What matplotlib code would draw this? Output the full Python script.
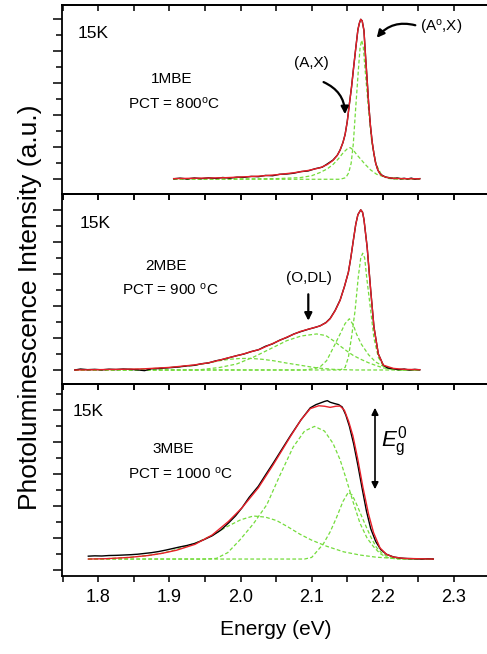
import matplotlib
matplotlib.use("Agg")
import matplotlib.pyplot as plt
from matplotlib.patches import FancyArrowPatch
from matplotlib.ticker import MultipleLocator, FormatStrFormatter, NullFormatter

plt.rcParams["font.family"] = ["Liberation Sans", "DejaVu Sans"]
plt.rcParams["mathtext.fontset"] = "custom"
plt.rcParams["mathtext.rm"] = "Liberation Sans"
plt.rcParams["mathtext.it"] = "Liberation Sans:italic"

# ---------------- data ----------------
# Panel 1 : 1MBE, PCT = 800 C
p1_fit_e = [1.906, 1.93, 1.96, 1.98, 2.00, 2.027, 2.05, 2.074, 2.095, 2.112, 2.122,
            2.130, 2.136, 2.140, 2.144, 2.147, 2.150, 2.153, 2.156, 2.159, 2.162,
            2.165, 2.167, 2.169, 2.171, 2.1735, 2.176, 2.178, 2.180, 2.1825, 2.185,
            2.1875, 2.190, 2.193, 2.196, 2.200, 2.206, 2.215, 2.225, 2.24, 2.252]
p1_fit = [0.004, 0.006, 0.008, 0.010, 0.014, 0.020, 0.028, 0.040, 0.055, 0.072, 0.092,
          0.118, 0.150, 0.183, 0.23, 0.28, 0.36, 0.47, 0.575, 0.70, 0.82,
          0.935, 0.975, 1.0, 0.99, 0.93, 0.75, 0.62, 0.48, 0.34, 0.235,
          0.16, 0.10, 0.058, 0.035, 0.02, 0.011, 0.006, 0.004, 0.003, 0.003]
p1_data_e = [1.906, 1.915, 1.925, 1.935, 1.945, 1.955, 1.965, 1.975, 1.985, 1.995,
             2.005, 2.015, 2.025, 2.035, 2.045, 2.055, 2.065, 2.075, 2.085, 2.095,
             2.105, 2.115, 2.122, 2.130, 2.136, 2.140, 2.144, 2.147, 2.150, 2.153,
             2.156, 2.159, 2.162, 2.165, 2.167, 2.169, 2.171, 2.1735, 2.176, 2.178,
             2.180, 2.1825, 2.185, 2.1875, 2.190, 2.193, 2.196, 2.200, 2.205, 2.210,
             2.215, 2.220, 2.225, 2.230, 2.235, 2.240, 2.245, 2.252]
p1_data = [0.003, 0.007, 0.002, 0.008, 0.004, 0.009, 0.005, 0.011, 0.007, 0.013,
           0.012, 0.018, 0.016, 0.024, 0.022, 0.031, 0.033, 0.038, 0.048, 0.052,
           0.066, 0.076, 0.096, 0.120, 0.150, 0.183, 0.23, 0.28, 0.36, 0.47,
           0.575, 0.70, 0.82, 0.935, 0.975, 1.0, 0.99, 0.93, 0.75, 0.62,
           0.48, 0.34, 0.235, 0.16, 0.10, 0.058, 0.035, 0.022, 0.012, 0.009,
           0.004, 0.008, 0.003, 0.006, 0.002, 0.007, 0.001, 0.004]
p1_a0x_e = [1.906, 2.14, 2.148, 2.152, 2.1555, 2.1585, 2.1618, 2.1656, 2.168, 2.1703,
            2.1725, 2.175, 2.1797, 2.1843, 2.1904, 2.1984, 2.206, 2.22, 2.252]
p1_a0x = [0.0, 0.0, 0.01, 0.04, 0.10, 0.22, 0.44, 0.68, 0.82, 0.869,
          0.83, 0.69, 0.45, 0.24, 0.095, 0.025, 0.006, 0.0, 0.0]
p1_ax_e = [1.906, 2.05, 2.0835, 2.10, 2.1117, 2.122, 2.1304, 2.138, 2.1445, 2.150,
           2.1539, 2.158, 2.163, 2.169, 2.175, 2.183, 2.1914, 2.20, 2.21, 2.23, 2.252]
p1_ax = [0.0, 0.004, 0.01, 0.022, 0.042, 0.065, 0.094, 0.13, 0.167, 0.19,
         0.198, 0.185, 0.156, 0.125, 0.094, 0.058, 0.031, 0.018, 0.01, 0.004, 0.002]

# Panel 2 : 2MBE, PCT = 900 C
p2_fit_e = [1.767, 1.80, 1.83, 1.863, 1.90, 1.934, 1.955, 1.971, 1.98, 2.00, 2.018,
            2.027, 2.045, 2.065, 2.0836, 2.098, 2.1117, 2.12, 2.126, 2.133, 2.140,
            2.146, 2.1516, 2.155, 2.1586, 2.162, 2.165, 2.169, 2.1715, 2.1735,
            2.178, 2.183, 2.1876, 2.1937, 2.2007, 2.2147, 2.23, 2.252]
p2_fit = [0.0, 0.002, 0.004, 0.007, 0.016, 0.031, 0.045, 0.062, 0.073, 0.095, 0.118,
          0.129, 0.165, 0.205, 0.24, 0.258, 0.275, 0.295, 0.32, 0.37, 0.435,
          0.52, 0.61, 0.70, 0.81, 0.91, 0.97, 1.0, 0.985, 0.94,
          0.767, 0.496, 0.267, 0.10, 0.03, 0.01, 0.004, 0.002]
p2_data_e = [1.767, 1.775, 1.785, 1.795, 1.805, 1.815, 1.825, 1.835, 1.845, 1.855,
             1.865, 1.875, 1.885, 1.895, 1.905, 1.915, 1.925, 1.935, 1.945, 1.955,
             1.965, 1.975, 1.985, 1.995, 2.005, 2.015, 2.025, 2.035, 2.045, 2.055,
             2.065, 2.075, 2.085, 2.095, 2.105, 2.112, 2.12, 2.126, 2.133, 2.140,
             2.146, 2.1516, 2.155, 2.1586, 2.162, 2.165, 2.169, 2.1715, 2.1735,
             2.178, 2.183, 2.1876, 2.1937, 2.2007, 2.207, 2.215, 2.222, 2.23, 2.237,
             2.245, 2.252]
p2_data = [0.0, 0.006, 0.002, 0.004, 0.001, 0.005, 0.003, 0.006, 0.004, 0.001,
           -0.004, 0.008, 0.009, 0.013, 0.016, 0.02, 0.026, 0.029, 0.039, 0.044,
           0.057, 0.066, 0.078, 0.09, 0.10, 0.115, 0.126, 0.148, 0.163, 0.186,
           0.203, 0.225, 0.24, 0.254, 0.266, 0.276, 0.296, 0.322, 0.372, 0.437,
           0.52, 0.61, 0.70, 0.81, 0.91, 0.97, 1.0, 0.985, 0.94,
           0.767, 0.496, 0.267, 0.10, 0.03, 0.012, 0.008, 0.002, 0.006, 0.0,
           0.004, 0.001]
p2_low_e = [1.767, 1.83, 1.86, 1.90, 1.934, 1.955, 1.971, 1.985, 2.00, 2.015, 2.03,
            2.046, 2.065, 2.0836, 2.10, 2.112, 2.13, 2.16, 2.252]
p2_low = [0.0, 0.002, 0.005, 0.014, 0.028, 0.045, 0.058, 0.067, 0.072, 0.072, 0.067,
          0.058, 0.043, 0.03, 0.018, 0.011, 0.004, 0.0, 0.0]
p2_odl_e = [1.767, 1.94, 1.971, 1.9946, 2.018, 2.0414, 2.065, 2.085, 2.107, 2.12,
            2.1305, 2.14, 2.149, 2.158, 2.168, 2.18, 2.191, 2.20, 2.21, 2.23, 2.252]
p2_odl = [0.0, 0.0, 0.016, 0.0375, 0.08, 0.131, 0.183, 0.212, 0.225, 0.215,
          0.183, 0.15, 0.12, 0.092, 0.069, 0.045, 0.027, 0.014, 0.006, 0.0, 0.0]
p2_ax_e = [1.767, 2.09, 2.105, 2.112, 2.121, 2.1305, 2.140, 2.147, 2.153, 2.1586,
           2.163, 2.17, 2.18, 2.19, 2.20, 2.21, 2.225, 2.252]
p2_ax = [0.0, 0.0, 0.01, 0.02, 0.058, 0.14, 0.225, 0.29, 0.32, 0.28,
         0.225, 0.16, 0.095, 0.05, 0.025, 0.01, 0.0, 0.0]
p2_a0x_e = [1.767, 2.14, 2.147, 2.1516, 2.156, 2.161, 2.1655, 2.169, 2.1717, 2.1745,
            2.1773, 2.183, 2.1875, 2.1937, 2.2007, 2.21, 2.22, 2.252]
p2_a0x = [0.0, 0.0, 0.016, 0.079, 0.204, 0.37, 0.58, 0.70, 0.729, 0.70,
          0.58, 0.37, 0.2, 0.079, 0.027, 0.008, 0.0, 0.0]

# Panel 3 : 3MBE, PCT = 1000 C
p3_fit_e = [1.786, 1.81, 1.843, 1.87, 1.89, 1.91, 1.936, 1.96, 1.983, 2.002, 2.025,
            2.046, 2.07, 2.085, 2.098, 2.11, 2.118, 2.126, 2.134, 2.14, 2.146,
            2.152, 2.158, 2.165, 2.172, 2.18, 2.187, 2.196, 2.205, 2.215, 2.23,
            2.25, 2.271]
p3_fit = [0.0, 0.002, 0.01, 0.022, 0.036, 0.055, 0.092, 0.15, 0.235, 0.32, 0.445,
          0.59, 0.765, 0.87, 0.94, 0.958, 0.955, 0.948, 0.955, 0.956, 0.93,
          0.86, 0.77, 0.62, 0.45, 0.28, 0.165, 0.07, 0.03, 0.012, 0.004,
          0.002, 0.0]
p3_data_e = [1.786, 1.795, 1.805, 1.815, 1.825, 1.835, 1.845, 1.855, 1.865, 1.875,
             1.885, 1.895, 1.905, 1.915, 1.925, 1.936, 1.948, 1.96, 1.972, 1.983,
             1.993, 2.002, 2.012, 2.025, 2.035, 2.046, 2.058, 2.07, 2.085, 2.098,
             2.106, 2.112, 2.118, 2.122, 2.126, 2.132, 2.138, 2.143, 2.148, 2.153,
             2.159, 2.165, 2.171, 2.177, 2.183, 2.19, 2.197, 2.205, 2.215, 2.225,
             2.235, 2.245, 2.255, 2.263, 2.271]
p3_data = [0.018, 0.020, 0.019, 0.022, 0.023, 0.025, 0.027, 0.030, 0.035, 0.040,
           0.047, 0.056, 0.066, 0.076, 0.085, 0.098, 0.12, 0.145, 0.18, 0.225,
           0.27, 0.32, 0.385, 0.455, 0.525, 0.60, 0.685, 0.77, 0.87, 0.945,
           0.965, 0.975, 0.985, 0.99, 0.98, 0.972, 0.965, 0.95, 0.90, 0.83,
           0.72, 0.585, 0.44, 0.30, 0.19, 0.11, 0.06, 0.03, 0.013, 0.006,
           0.003, 0.002, 0.0, 0.002, 0.0]
p3_main_e = [1.786, 1.95, 1.966, 1.982, 1.999, 2.018, 2.037, 2.055, 2.074, 2.09,
             2.104, 2.118, 2.130, 2.14, 2.149, 2.158, 2.168, 2.178, 2.187, 2.196,
             2.2055, 2.22, 2.271]
p3_main = [0.0, 0.0, 0.004, 0.04, 0.119, 0.22, 0.34, 0.52, 0.70, 0.80,
           0.829, 0.80, 0.723, 0.62, 0.494, 0.36, 0.223, 0.13, 0.077, 0.035,
           0.01, 0.0, 0.0]
p3_low_e = [1.786, 1.81, 1.843, 1.87, 1.89, 1.91, 1.936, 1.96, 1.98, 2.0, 2.018,
            2.035, 2.051, 2.067, 2.0836, 2.10, 2.121, 2.145, 2.168, 2.19, 2.215,
            2.24, 2.271]
p3_low = [0.0, 0.002, 0.01, 0.022, 0.036, 0.06, 0.098, 0.148, 0.2, 0.245, 0.269,
          0.262, 0.24, 0.2, 0.155, 0.118, 0.08, 0.045, 0.025, 0.012, 0.004,
          0.0, 0.0]
p3_high_e = [1.786, 2.09, 2.10, 2.1163, 2.126, 2.135, 2.144, 2.1515, 2.157, 2.163,
             2.17, 2.177, 2.184, 2.191, 2.198, 2.205, 2.215, 2.23, 2.271]
p3_high = [0.0, 0.0, 0.01, 0.094, 0.17, 0.26, 0.36, 0.417, 0.40, 0.344,
           0.27, 0.198, 0.13, 0.073, 0.04, 0.02, 0.008, 0.0, 0.0]

panels = [
    dict(data=(p1_data_e, p1_data), fit=(p1_fit_e, p1_fit),
         comps=[(p1_ax_e, p1_ax), (p1_a0x_e, p1_a0x)], ylim=(-0.094, 1.0875)),
    dict(data=(p2_data_e, p2_data), fit=(p2_fit_e, p2_fit),
         comps=[(p2_low_e, p2_low), (p2_odl_e, p2_odl), (p2_ax_e, p2_ax),
                (p2_a0x_e, p2_a0x)], ylim=(-0.0875, 1.097)),
    dict(data=(p3_data_e, p3_data), fit=(p3_fit_e, p3_fit),
         comps=[(p3_low_e, p3_low), (p3_main_e, p3_main), (p3_high_e, p3_high)],
         ylim=(-0.106, 1.094)),
]

W, H = 487, 654
RED = "#e8202a"
GREEN = "#74dc3c"

fig = plt.figure(figsize=(W / 100, H / 100), dpi=100)


def fp(x, y):
    # pixel position in the picture -> figure fraction
    return (x / W, 1 - y / H)


# panel edges in pixels (top, bottom)
edges = [(5.3, 194.3), (194.3, 384.0), (384.0, 576.0)]
left_px, right_px = 62.0, 489.5

for i, (p, (t, b)) in enumerate(zip(panels, edges)):
    ax = fig.add_axes([left_px / W, 1 - b / H, (right_px - left_px) / W, (b - t) / H])
    ax.patch.set_alpha(0)
    for c in p["comps"]:
        ax.plot(c[0], c[1], color=GREEN, lw=0.9, dashes=(3, 1.8))
    ax.plot(p["data"][0], p["data"][1], color="black", lw=1.0)
    ax.plot(p["fit"][0], p["fit"][1], color=RED, lw=1.0)
    ax.set_xlim(1.749, 2.35)
    ax.set_ylim(*p["ylim"])
    ax.xaxis.set_major_locator(MultipleLocator(0.1))
    ax.xaxis.set_minor_locator(MultipleLocator(0.05))
    if i == 2:
        ax.yaxis.set_major_locator(MultipleLocator(0.2, offset=0.13))
        ax.yaxis.set_minor_locator(MultipleLocator(0.1, offset=0.03))
    else:
        ax.yaxis.set_major_locator(MultipleLocator(0.2))
        ax.yaxis.set_minor_locator(MultipleLocator(0.1))
    ax.yaxis.set_major_formatter(NullFormatter())
    ax.tick_params(axis="x", which="both", direction="out", length=4.5, width=1.1,
                   top=False, bottom=True)
    ax.tick_params(axis="y", which="major", direction="out", length=6.5, width=1.1)
    ax.tick_params(axis="y", which="minor", direction="out", length=4.3, width=1.1)
    sec = ax.secondary_xaxis("top")
    sec.xaxis.set_major_locator(MultipleLocator(0.1))
    sec.xaxis.set_minor_locator(MultipleLocator(0.05))
    sec.tick_params(axis="x", which="both", direction="in", length=4.5, width=1.1,
                    labeltop=False)
    sec.spines["top"].set_linewidth(1.3)
    for s in ax.spines.values():
        s.set_linewidth(1.3)
    if i < 2:
        ax.xaxis.set_major_formatter(NullFormatter())
    else:
        ax.xaxis.set_major_formatter(FormatStrFormatter("%.1f"))
        ax.tick_params(axis="x", labelsize=13, pad=5)
        ax.set_xlabel("Energy (eV)", fontsize=15, labelpad=10)

fig.text(*fp(30, 307), "Photoluminescence Intensity (a.u.)", rotation=90,
         ha="center", va="center", fontsize=19)

TXT = 11
# panel 1 labels
fig.text(*fp(78, 33.5), "15K", fontsize=12.5, ha="left", va="center")
fig.text(*fp(172, 79), "1MBE", fontsize=TXT, ha="center", va="center")
fig.text(*fp(174, 104), r"PCT = 800$^{\mathrm{o}}$C", fontsize=TXT, ha="center", va="center")
fig.text(*fp(311, 63), "(A,X)", fontsize=TXT, ha="center", va="center")
fig.text(*fp(441, 27), r"(A$^{\mathrm{o}}$,X)", fontsize=TXT, ha="center", va="center")
fig.add_artist(FancyArrowPatch(
    fp(321, 81), fp(345, 117), transform=fig.transFigure, arrowstyle="-|>",
    mutation_scale=11, lw=1.6, color="black", connectionstyle="arc3,rad=-0.35"))
fig.add_artist(FancyArrowPatch(
    fp(418, 26), fp(375, 40), transform=fig.transFigure, arrowstyle="-|>",
    mutation_scale=11, lw=1.6, color="black", connectionstyle="arc3,rad=0.35"))

# panel 2 labels
fig.text(*fp(80, 223.5), "15K", fontsize=12.5, ha="left", va="center")
fig.text(*fp(166, 266), "2MBE", fontsize=TXT, ha="center", va="center")
fig.text(*fp(170, 289.5), r"PCT = 900 $^{\mathrm{o}}$C", fontsize=TXT, ha="center", va="center")
fig.text(*fp(308.5, 278), "(O,DL)", fontsize=TXT, ha="center", va="center")
fig.add_artist(FancyArrowPatch(
    fp(308.3, 291.5), fp(308.3, 323.5), transform=fig.transFigure, arrowstyle="-|>",
    mutation_scale=11, lw=1.6, color="black"))

# panel 3 labels
fig.text(*fp(73, 412), "15K", fontsize=12.5, ha="left", va="center")
fig.text(*fp(173, 449), "3MBE", fontsize=TXT, ha="center", va="center")
fig.text(*fp(180, 474), r"PCT = 1000 $^{\mathrm{o}}$C", fontsize=TXT, ha="center", va="center")
fig.add_artist(FancyArrowPatch(
    fp(375, 405), fp(375, 492), transform=fig.transFigure, arrowstyle="<|-|>",
    mutation_scale=10, lw=1.2, color="black"))
fig.text(*fp(381, 442), r"$E_{\mathrm{g}}^{0}$", fontsize=16, ha="left", va="center")

fig.savefig("out.png", dpi=100)
